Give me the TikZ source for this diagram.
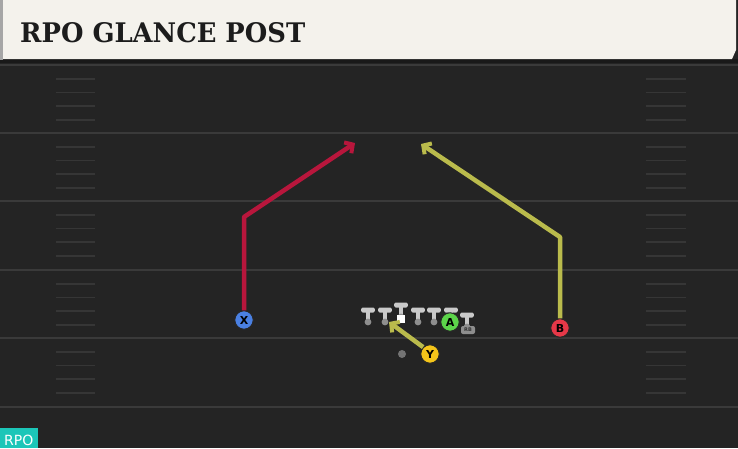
\documentclass[tikz,border=0pt]{standalone}
\usepackage{fontspec}
\usepackage{graphicx}
\setmainfont{DejaVu Sans}
\newfontfamily\titlefont{DejaVu Serif}
\usetikzlibrary{arrows.meta}
\definecolor{field}{HTML}{242424}
\definecolor{yardc}{HTML}{3A3A3A}
\definecolor{hashc}{HTML}{363636}
\definecolor{banner}{HTML}{F4F2EC}
\definecolor{titlec}{HTML}{1C1C1C}
\definecolor{redroute}{HTML}{B8163C}
\definecolor{yelroute}{HTML}{BABB4C}
\definecolor{xblue}{HTML}{4A80E2}
\definecolor{bred}{HTML}{E63848}
\definecolor{ayel}{HTML}{F5C51A}
\definecolor{agreen}{HTML}{5CD44A}
\definecolor{tcol}{HTML}{C9C9C9}
\definecolor{tdot}{HTML}{8E8E8E}
\definecolor{rpoteal}{HTML}{1CC6B8}
\tikzset{
  yardline/.style={draw=yardc, line width=2pt},
  hashline/.style={draw=hashc, line width=1.6pt},
  player/.style={circle, draw=black!85, line width=1pt, minimum size=18.5pt, inner sep=0pt, font=\bfseries\fontsize{11}{11}\selectfont, text=black},
  route/.style={line width=4.5pt, line join=round, -{Straight Barb[length=6pt,width=13pt,line width=4pt]}},
  lineman/.pic={
    \fill[tcol, rounded corners=1.5pt] (-6.8,-7.5) rectangle (6.8,-2.5);
    \fill[tcol] (-2.2,-3) rectangle (2.2,6);
    \fill[tdot] (0,7) circle (3.4);
  }
}
\begin{document}
\begin{tikzpicture}[x=1pt,y=-1pt]
\useasboundingbox (0,0) rectangle (738,448);
\fill[field] (0,0) rectangle (738,448);
% yard lines
\foreach \yy in {65,133,201,270,338,407} {
  \draw[yardline] (0,\yy) -- (738,\yy);
}
% hash marks
\foreach \base in {65,133,201,270,338} {
  \foreach \k in {1,2,3,4} {
    \draw[hashline] (56,\base+13.7*\k) -- (95,\base+13.7*\k);
    \draw[hashline] (646,\base+13.7*\k) -- (686,\base+13.7*\k);
  }
}
% banner
\fill[black!90] (0,59) rectangle (738,63);
\fill[black!35] (0,0) rectangle (3,60);
\fill[banner] (3,0) -- (736,0) -- (736,50) -- (732,59) -- (3,59) -- cycle;
\node[anchor=south west, inner sep=0pt, text=titlec] (title) at (20,43)
  {\resizebox{285pt}{20pt}{\titlefont\bfseries RPO GLANCE POST}};
% linemen
\foreach \xx in {368,385,418,434,451} {
  \pic at (\xx,315) {lineman};
}
\pic at (401,310) {lineman};
\fill[white] (397,315) rectangle (405,323);
\pic at (467,320) {lineman};
\node[fill=tdot, rounded corners=2pt, minimum width=14pt, minimum height=8pt, inner sep=0pt, font=\bfseries\fontsize{5}{5}\selectfont, text=black!80] (rb) at (468,330) {RB};
% players
\node[player, fill=xblue] (X) at (244,320) {X};
\node[player, fill=bred] (B) at (560,328) {B};
\node[player, fill=agreen] (A) at (450,322) {A};
\node[player, fill=ayel] (Y) at (430,354) {Y};
\node[circle, fill=black!55, minimum size=8pt, inner sep=0pt] (qb) at (402,354) {};
% route points
\coordinate (xbreak) at (244,217);
\coordinate (xend) at (355,143);
\coordinate (bbreak) at (560,237);
\coordinate (bend) at (421,144);
\coordinate (yend) at (389,322);
% routes
\draw[route, draw=redroute] (X.north) -- (xbreak) -- (xend);
\draw[route, draw=yelroute] (B.north) -- (bbreak) -- (bend);
\draw[route, draw=yelroute] (Y.north west) -- (yend);
% RPO tag
\fill[rpoteal] (0,428) rectangle (38,448);
\node[anchor=south west, inner sep=0pt, text=white, font=\fontsize{14}{14}\selectfont] (rpo) at (4,446) {RPO};
\end{tikzpicture}
\end{document}
